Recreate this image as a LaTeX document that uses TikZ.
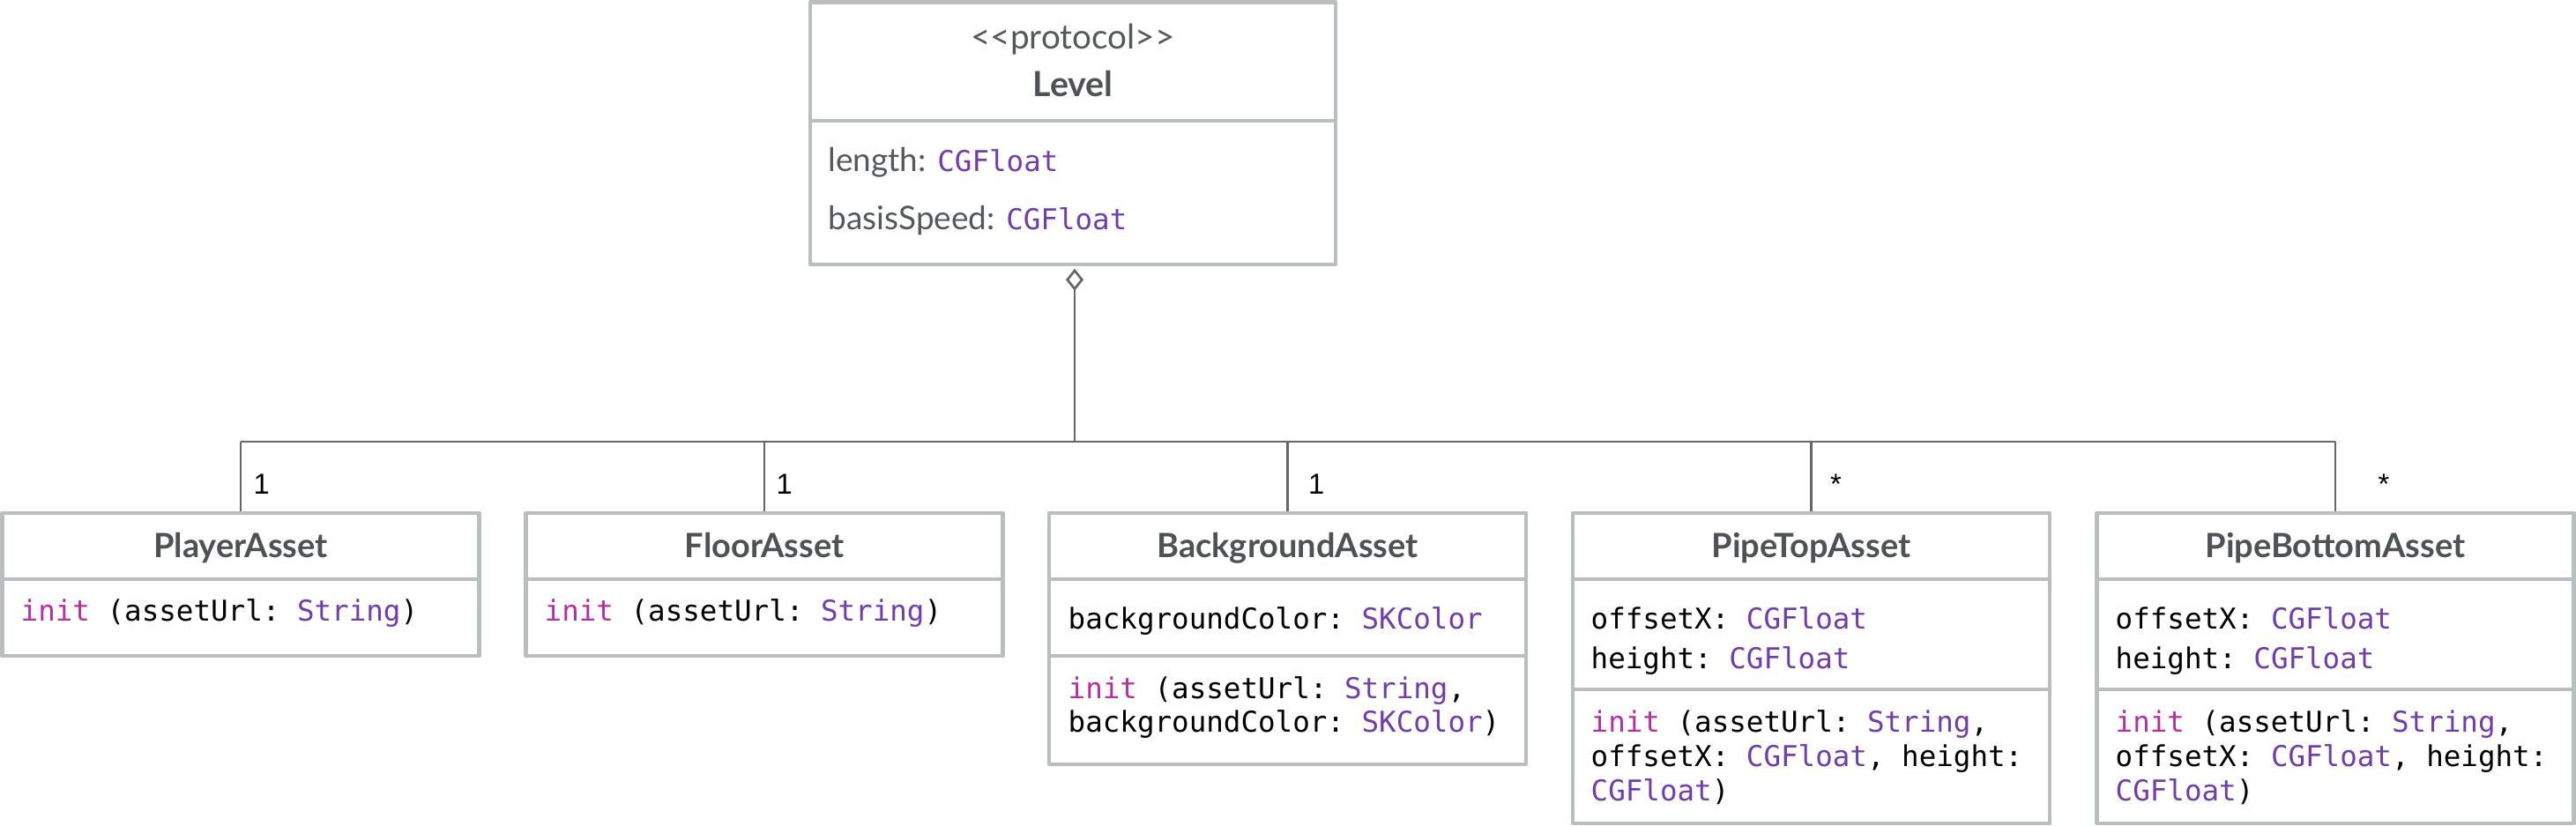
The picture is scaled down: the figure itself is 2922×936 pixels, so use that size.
\documentclass[tikz,border=0pt]{standalone}
\usepackage{fontspec}
\setmainfont{Lato}
\setmonofont{DejaVu Sans Mono}
\newfontfamily\labelfont{Liberation Sans}
\usetikzlibrary{arrows.meta,fit,calc}
\definecolor{boxgray}{RGB}{185,190,191}
\definecolor{linegray}{RGB}{100,102,103}
\definecolor{titlegray}{RGB}{78,82,84}
\definecolor{typepurple}{RGB}{112,61,170}
\definecolor{kwpink}{RGB}{180,48,160}
\definecolor{textgray}{RGB}{85,88,90}
\newcommand\tyc[1]{\textcolor{typepurple}{#1}}
\newcommand\kwc[1]{\textcolor{kwpink}{#1}}
\newcommand\monotype[1]{{\ttfamily\fontsize{9.25}{11}\selectfont\tyc{#1}}}
\begin{document}
\begin{tikzpicture}[x=0.01cm,y=-0.01cm,
  umlbox/.style={draw=boxgray, line width=0.048cm, inner sep=0pt, line join=round},
  divider/.style={draw=boxgray, line width=0.048cm},
  conn/.style={draw=linegray, line width=0.027cm},
  title/.style={font=\fontsize{10.8}{12}\selectfont\bfseries, text=titlegray, inner sep=0pt, anchor=base},
  stereo/.style={font=\fontsize{11}{13}\selectfont, text=textgray, inner sep=0pt, anchor=base},
  sans/.style={font=\fontsize{10.5}{12}\selectfont, text=textgray, inner sep=0pt, anchor=base west},
  code/.style={font=\ttfamily\fontsize{9.25}{11}\selectfont, inner sep=0pt, anchor=base west},
  mult/.style={font=\labelfont\fontsize{9.3}{11}\selectfont, inner sep=0pt, anchor=base west},
]
\useasboundingbox (0,0) rectangle (2922,936);

% ---- Level ----
\node[umlbox, fit={(919,2.5) (1515,300)}] (level) {};
\draw[divider] (919,137) -- (1515,137);
\node[stereo] (lvstereo) at (1217,55) {<{}<protocol>{}>};
\node[title, font=\fontsize{11.2}{13}\selectfont\bfseries] (lvtitle) at (1217,109) {Level};
\node[sans] (lvattr1) at (939,194) {length: \monotype{CGFloat}};
\node[sans] (lvattr2) at (939,260) {basisSpeed: \monotype{CGFloat}};

% ---- PlayerAsset ----
\node[umlbox, fit={(2.5,582) (543.5,744)}] (player) {};
\draw[divider] (2.5,657) -- (543.5,657);
\node[title] (pltitle) at (273,632) {PlayerAsset};
\node[code] (plm1) at (23,704) {\kwc{init} (assetUrl: \tyc{String})};

% ---- FloorAsset ----
\node[umlbox, fit={(596.5,582) (1137.5,744)}] (floor) {};
\draw[divider] (596.5,657) -- (1137.5,657);
\node[title] (fltitle) at (867,632) {FloorAsset};
\node[code] (flm1) at (617,704) {\kwc{init} (assetUrl: \tyc{String})};

% ---- BackgroundAsset ----
\node[umlbox, fit={(1190,582) (1731,867)}] (bg) {};
\draw[divider] (1190,657) -- (1731,657);
\draw[divider] (1190,744) -- (1731,744);
\node[title] (bgtitle) at (1460.5,632) {BackgroundAsset};
\node[code] (bga1) at (1211,713) {backgroundColor: \tyc{SKColor}};
\node[code] (bgm1) at (1211,792) {\kwc{init} (assetUrl: \tyc{String},};
\node[code] (bgm2) at (1211,830) {backgroundColor: \tyc{SKColor})};

% ---- PipeTopAsset ----
\node[umlbox, fit={(1784,582) (2325,934)}] (ptop) {};
\draw[divider] (1784,657) -- (2325,657);
\draw[divider] (1784,782) -- (2325,782);
\node[title] (pttitle) at (2054.5,632) {PipeTopAsset};
\node[code] (pta1) at (1804,713) {offsetX: \tyc{CGFloat}};
\node[code] (pta2) at (1804,758) {height: \tyc{CGFloat}};
\node[code] (ptm1) at (1804,830) {\kwc{init} (assetUrl: \tyc{String},};
\node[code] (ptm2) at (1804,869) {offsetX: \tyc{CGFloat}, height:};
\node[code] (ptm3) at (1804,908) {\tyc{CGFloat})};

% ---- PipeBottomAsset ----
\node[umlbox, fit={(2378.5,582) (2919.5,934)}] (pbot) {};
\draw[divider] (2378.5,657) -- (2919.5,657);
\draw[divider] (2378.5,782) -- (2919.5,782);
\node[title] (pbtitle) at (2649,632) {PipeBottomAsset};
\node[code] (pba1) at (2399,713) {offsetX: \tyc{CGFloat}};
\node[code] (pba2) at (2399,758) {height: \tyc{CGFloat}};
\node[code] (pbm1) at (2399,830) {\kwc{init} (assetUrl: \tyc{String},};
\node[code] (pbm2) at (2399,869) {offsetX: \tyc{CGFloat}, height:};
\node[code] (pbm3) at (2399,908) {\tyc{CGFloat})};

% ---- connectors ----
\coordinate (bus) at (1219,501);
\draw[conn, {Diamond[open, length=0.25cm, width=0.2cm]}-, shorten <=0.024cm] (level.south -| bus) -- (bus);
\draw[conn] (bus -| player.north) -- (bus -| pbot.north);
\draw[conn] (bus -| player.north) -- (player.north);
\draw[conn] (bus -| floor.north) -- (floor.north);
\draw[conn] (bus -| bg.north) -- (bg.north);
\draw[conn] (bus -| ptop.north) -- (ptop.north);
\draw[conn] (bus -| pbot.north) -- (pbot.north);

% ---- multiplicities ----
\node[mult] (m1) at ($(player.north)+(14,-19)$) {1};
\node[mult] (m2) at ($(floor.north)+(13,-19)$) {1};
\node[mult] (m3) at ($(bg.north)+(23,-19)$) {1};
\node[mult] (m4) at ($(ptop.north)+(21,-19)$) {*};
\node[mult] (m5) at ($(pbot.north)+(48,-19)$) {*};
\end{tikzpicture}
\end{document}
